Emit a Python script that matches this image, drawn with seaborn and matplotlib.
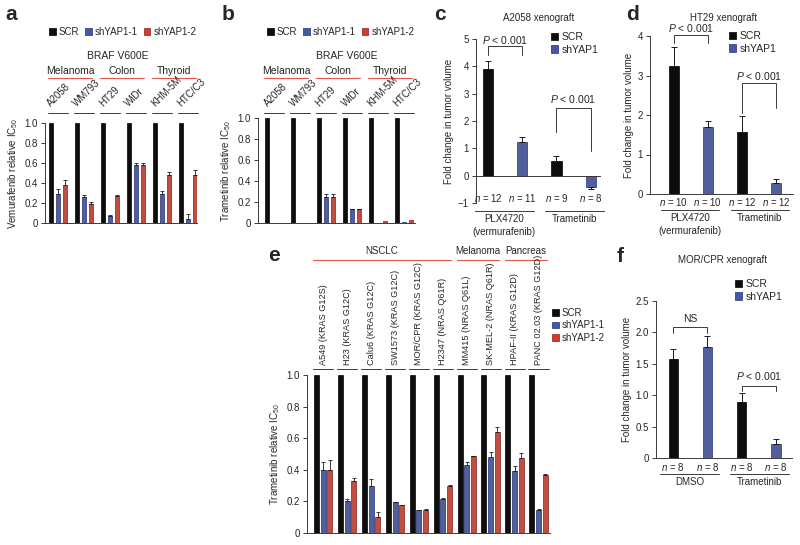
import matplotlib
matplotlib.use("Agg")
import matplotlib.pyplot as plt
import matplotlib.transforms as mtransforms
from matplotlib.patches import Patch
from matplotlib.ticker import FuncFormatter
import seaborn as sns
import pandas as pd
import numpy as np

# ---------------- data ----------------
braf_cells = ["A2058", "WM793", "HT29", "WiDr", "KHM-5M", "HTC/C3"]
braf_tissues = [("Melanoma", 0, 1), ("Colon", 2, 3), ("Thyroid", 4, 5)]

a_scr = [1.0, 1.0, 1.0, 1.0, 1.0, 1.0]
a_sh1 = [0.29, 0.26, 0.075, 0.58, 0.29, 0.04]
a_sh1_err = [0.05, 0.02, 0.01, 0.02, 0.035, 0.05]
a_sh2 = [0.385, 0.19, 0.27, 0.58, 0.48, 0.48]
a_sh2_err = [0.05, 0.02, 0.01, 0.02, 0.035, 0.055]

b_scr = [1.0, 1.0, 1.0, 1.0, 1.0, 1.0]
b_sh1 = [0.0, 0.0, 0.245, 0.133, 0.0, 0.005]
b_sh1_err = [0, 0, 0.03, 0.005, 0, 0]
b_sh2 = [0.0, 0.0, 0.245, 0.133, 0.015, 0.025]
b_sh2_err = [0, 0, 0.03, 0.005, 0, 0]

ras_cells = ["A549 (KRAS G12S)", "H23 (KRAS G12C)", "Calu6 (KRAS G12C)",
             "SW1573 (KRAS G12C)", "MOR/CPR (KRAS G12C)", "H2347 (NRAS Q61R)",
             "MM415 (NRAS Q61L)", "SK-MEL-2 (NRAS Q61R)", "HPAF-II (KRAS G12D)",
             "PANC 02.03 (KRAS G12D)"]
ras_tissues = [("NSCLC", 0, 5), ("Melanoma", 6, 7), ("Pancreas", 8, 9)]
e_scr = [1.0] * 10
e_sh1 = [0.40, 0.20, 0.30, 0.195, 0.145, 0.215, 0.43, 0.48, 0.395, 0.145]
e_sh1_err = [0.05, 0.015, 0.04, 0.004, 0.003, 0.004, 0.02, 0.03, 0.03, 0.006]
e_sh2 = [0.40, 0.33, 0.10, 0.175, 0.145, 0.30, 0.485, 0.64, 0.475, 0.37]
e_sh2_err = [0.06, 0.02, 0.035, 0.003, 0.004, 0.003, 0.003, 0.03, 0.03, 0.006]

xeno_hue = ["SCR", "shYAP1", "SCR", "shYAP1"]
c_vals = [3.9, 1.25, 0.55, -0.42]
c_err = [0.3, 0.18, 0.16, 0.07]
c_n = [12, 11, 9, 8]
c_groups = ["PLX4720\n(vermurafenib)", "Trametinib"]

d_vals = [3.23, 1.70, 1.56, 0.28]
d_err = [0.5, 0.14, 0.41, 0.11]
d_n = [10, 10, 12, 12]
d_groups = ["PLX4720\n(vermurafenib)", "Trametinib"]

f_vals = [1.57, 1.77, 0.89, 0.23]
f_err = [0.17, 0.18, 0.14, 0.08]
f_n = [8, 8, 8, 8]
f_groups = ["DMSO", "Trametinib"]

# ---------------- style ----------------
sns.set_theme(style="ticks")
plt.rcParams['font.family'] = ['Liberation Sans', 'DejaVu Sans']
plt.rcParams['mathtext.fontset'] = 'custom'
plt.rcParams['mathtext.rm'] = 'Liberation Sans'
plt.rcParams['mathtext.it'] = 'Liberation Sans:italic'
plt.rcParams['font.size'] = 7

BLACK = '#0d0d0d'
BLUE = '#4558a8'
RED = '#d63a2c'
EDGES = ['#000000', '#25306e', '#8a1f17']
LRED = '#e0584c'
GREY = '#3a3a3a'
FS = 7

W, H = 800, 545
fig = plt.figure(figsize=(8, 5.45), dpi=100)


def add_ax(x0, x1, ytop, ybot):
    return fig.add_axes([x0 / W, 1 - ybot / H, (x1 - x0) / W, (ybot - ytop) / H])


def fy(ypx):
    return 1 - ypx / H


def blend(ax):
    return mtransforms.blended_transform_factory(ax.transData, fig.transFigure)


def style(ax):
    sns.despine(ax=ax)
    for s in ['left', 'bottom']:
        ax.spines[s].set_linewidth(0.7)
        ax.spines[s].set_color(GREY)
    ax.tick_params(axis='y', length=3, width=0.7, color=GREY, labelsize=FS, pad=2)
    ax.tick_params(axis='x', length=0, labelbottom=False)
    ax.set_xlabel('')


def fmt(v, pos):
    if abs(v) < 1e-9:
        return '0'
    return f'{v:.1f}'


def panel_letter(x, y, s):
    fig.text(x / W, fy(y), s, fontsize=15, fontweight='bold', ha='left', va='center')


def square_legend(ax, labels, colors, x, y, ncol=1, fs=7.5):
    handles = [Patch(facecolor=c, edgecolor=e, linewidth=0.5) for c, e in zip(colors, EDGES)]
    ax.legend(handles, labels, loc='upper left', bbox_to_anchor=(x / W, fy(y)),
              bbox_transform=fig.transFigure, frameon=False, ncol=ncol, fontsize=fs,
              handlelength=0.7, handleheight=0.7, handletextpad=0.3, columnspacing=0.6,
              labelspacing=0.25, borderpad=0, borderaxespad=0)


def ic50_bars(ax, cells, scr, sh1, sh1_err, sh2, sh2_err, width, gap):
    groups = ['SCR', 'shYAP1-1', 'shYAP1-2']
    df = pd.DataFrame({
        'cell': list(cells) * 3,
        'group': np.repeat(groups, len(cells)),
        'value': list(scr) + list(sh1) + list(sh2),
    })
    sns.barplot(data=df, x='cell', y='value', hue='group', order=cells, hue_order=groups,
                palette=[BLACK, BLUE, RED], width=width, gap=gap, errorbar=None,
                legend=False, linewidth=0.5, ax=ax)
    for cont, ec, err in zip(ax.containers, EDGES, [np.zeros(len(cells)), sh1_err, sh2_err]):
        xs, ys = [], []
        for p in cont:
            p.set_edgecolor(ec)
            xs.append(p.get_x() + p.get_width() / 2)
            ys.append(p.get_height())
        xs, ys, err = np.array(xs), np.array(ys), np.asarray(err, dtype=float)
        m = err > 0
        if m.any():
            ax.errorbar(xs[m], ys[m], yerr=[np.zeros(m.sum()), err[m]], fmt='none',
                        ecolor='#1a1a1a', elinewidth=0.6, capsize=1.3, capthick=0.6)


def xeno_bars(ax, vals, errs, width):
    keys = ['p0', 'p1', 'p2', 'p3']
    df = pd.DataFrame({'pos': keys, 'value': vals, 'group': xeno_hue})
    sns.barplot(data=df, x='pos', y='value', hue='group', order=keys,
                hue_order=['SCR', 'shYAP1'], palette=[BLACK, BLUE], dodge=False,
                width=width, errorbar=None, legend=False, linewidth=0.5, ax=ax)
    for cont, ec in zip(ax.containers, EDGES):
        for p in cont:
            p.set_edgecolor(ec)
    vals = np.asarray(vals)
    errs = np.asarray(errs)
    lower = np.where(vals < 0, errs, 0)
    upper = np.where(vals >= 0, errs, 0)
    ax.errorbar(np.arange(4), vals, yerr=[lower, upper], fmt='none', ecolor='#1a1a1a',
                elinewidth=0.7, capsize=2, capthick=0.7)


def xeno_labels(ax, ns, groups, n_y, line_y):
    t = blend(ax)
    for i, n in enumerate(ns):
        ax.text(i, fy(n_y), f'$n$ = {n}', transform=t, ha='center', va='center', fontsize=FS)
    for (lo, hi), g in zip([(-0.38, 1.33), (1.67, 3.38)], groups):
        ax.plot([lo, hi], [fy(line_y)] * 2, transform=t, color=GREY, lw=0.7, clip_on=False)
        ax.text((lo + hi) / 2, fy(line_y + 3), g, transform=t, ha='center', va='top',
                fontsize=FS, linespacing=1.35)


def bracket(ax, x0, x1, top, leg0, leg1, label, ty):
    ax.plot([x0, x0, x1, x1], [leg0, top, top, leg1], color=GREY, lw=0.7, clip_on=False)
    ax.text((x0 + x1) / 2, ty, label, ha='center', va='center', fontsize=7.5)


def ic50_annotations(ax, cells, tissues, line_y, text_y, red_y, tissue_y, rotation, span,
                     cell_fs=FS, tissue_fs=7.5):
    t = blend(ax)
    for i, c in enumerate(cells):
        ax.plot([i - span, i + span], [fy(line_y)] * 2, transform=t, color=GREY, lw=0.7,
                clip_on=False)
        if rotation == 45:
            ax.text(i - 0.2, fy(text_y), c, transform=t, rotation=45, rotation_mode='anchor',
                    ha='left', va='bottom', fontsize=cell_fs)
        else:
            ax.text(i, fy(text_y), c, transform=t, rotation=90, ha='center', va='bottom',
                    fontsize=cell_fs)
    for name, a, b in tissues:
        lo, hi = a - span, b + span * 0.8
        ax.plot([lo, hi], [fy(red_y)] * 2, transform=t, color=LRED, lw=0.8, clip_on=False)
        ax.text((lo + hi) / 2, fy(tissue_y), name, transform=t, ha='center', va='center',
                fontsize=tissue_fs)


# ---------------- panel a ----------------
ax_a = add_ax(45, 197, 123, 223)
ic50_bars(ax_a, braf_cells, a_scr, a_sh1, a_sh1_err, a_sh2, a_sh2_err, 0.8, 0.35)
style(ax_a)
ax_a.set_ylim(0, 1.0)
ax_a.set_xlim(-0.5, 5.35)
ax_a.set_yticks([0, 0.2, 0.4, 0.6, 0.8, 1.0])
ax_a.yaxis.set_major_formatter(FuncFormatter(fmt))
ax_a.set_ylabel('Vemurafenib relative IC$_{50}$', fontsize=FS, labelpad=3)
ic50_annotations(ax_a, braf_cells, braf_tissues, 113, 108, 78, 71, 45, 0.38)
ax_a.text(2.3, fy(56), 'BRAF V600E', transform=blend(ax_a), ha='center', va='center', fontsize=7.5)
square_legend(ax_a, ['SCR', 'shYAP1-1', 'shYAP1-2'], [BLACK, BLUE, RED], 49, 27, ncol=3, fs=7)
panel_letter(5, 15, 'a')

# ---------------- panel b ----------------
ax_b = add_ax(258, 415, 118, 223)
ic50_bars(ax_b, braf_cells, b_scr, b_sh1, b_sh1_err, b_sh2, b_sh2_err, 0.8, 0.35)
style(ax_b)
ax_b.set_ylim(0, 1.0)
ax_b.set_xlim(-0.62, 5.42)
ax_b.set_yticks([0, 0.2, 0.4, 0.6, 0.8, 1.0])
ax_b.yaxis.set_major_formatter(FuncFormatter(fmt))
ax_b.set_ylabel('Trametinib relative IC$_{50}$', fontsize=FS, labelpad=3)
ic50_annotations(ax_b, braf_cells, braf_tissues, 113, 108, 78, 71, 45, 0.38)
ax_b.text(2.8, fy(56), 'BRAF V600E', transform=blend(ax_b), ha='center', va='center', fontsize=7.5)
square_legend(ax_b, ['SCR', 'shYAP1-1', 'shYAP1-2'], [BLACK, BLUE, RED], 267, 27, ncol=3, fs=7)
panel_letter(222, 15, 'b')

# ---------------- panel c ----------------
ax_c = add_ax(476, 600, 39, 203)
xeno_bars(ax_c, c_vals, c_err, 0.3)
style(ax_c)
ax_c.set_ylim(-1, 5)
ax_c.set_xlim(-0.35, 3.27)
ax_c.set_yticks([-1, 0, 1, 2, 3, 4, 5])
ax_c.spines['bottom'].set_position(('data', 0))
ax_c.set_ylabel('Fold change in tumor volume', fontsize=FS, labelpad=3)
xeno_labels(ax_c, c_n, c_groups, 198, 211)
bracket(ax_c, 0, 1, 4.75, 4.42, 4.42, '$P$ < 0.001', 4.98)
bracket(ax_c, 2, 3, 2.46, 1.6, 0.9, '$P$ < 0.001', 2.8)
fig.text(539 / W, fy(18), 'A2058 xenograft', ha='center', va='center', fontsize=FS)
square_legend(ax_c, ['SCR', 'shYAP1'], [BLACK, BLUE], 551, 32)
panel_letter(434, 15, 'c')

# ---------------- panel d ----------------
ax_d = add_ax(650, 793, 36, 194)
xeno_bars(ax_d, d_vals, d_err, 0.29)
style(ax_d)
ax_d.set_ylim(0, 4)
ax_d.set_xlim(-0.7, 3.5)
ax_d.set_yticks([0, 1, 2, 3, 4])
ax_d.set_ylabel('Fold change in tumor volume', fontsize=FS, labelpad=3)
xeno_labels(ax_d, d_n, d_groups, 202, 210)
bracket(ax_d, 0, 1, 4.03, 3.82, 3.82, '$P$ < 0.001', 4.2)
bracket(ax_d, 2, 3, 2.81, 2.05, 2.18, '$P$ < 0.001', 3.0)
fig.text(723 / W, fy(18), 'HT29 xenograft', ha='center', va='center', fontsize=FS)
square_legend(ax_d, ['SCR', 'shYAP1'], [BLACK, BLUE], 729, 31)
panel_letter(626, 15, 'd')

# ---------------- panel e ----------------
ax_e = add_ax(307, 550, 375, 533)
ic50_bars(ax_e, ras_cells, e_scr, e_sh1, e_sh1_err, e_sh2, e_sh2_err, 0.84, 0.25)
style(ax_e)
ax_e.set_ylim(0, 1.0)
ax_e.set_xlim(-0.68, 9.48)
ax_e.set_yticks([0, 0.2, 0.4, 0.6, 0.8, 1.0])
ax_e.yaxis.set_major_formatter(FuncFormatter(fmt))
ax_e.set_ylabel('Trametinib relative IC$_{50}$', fontsize=FS, labelpad=3)
ic50_annotations(ax_e, ras_cells, ras_tissues, 369, 365, 260, 251, 90, 0.42,
                 cell_fs=6.6, tissue_fs=7)
square_legend(ax_e, ['SCR', 'shYAP1-1', 'shYAP1-2'], [BLACK, BLUE, RED], 552, 308, fs=7)
panel_letter(268, 255, 'e')

# ---------------- panel f ----------------
ax_f = add_ax(656, 792, 301, 458)
xeno_bars(ax_f, f_vals, f_err, 0.27)
style(ax_f)
ax_f.set_ylim(0, 2.5)
ax_f.set_xlim(-0.5, 3.47)
ax_f.set_yticks([0, 0.5, 1.0, 1.5, 2.0, 2.5])
ax_f.yaxis.set_major_formatter(FuncFormatter(fmt))
ax_f.set_ylabel('Fold change in tumor volume', fontsize=FS, labelpad=3)
xeno_labels(ax_f, f_n, f_groups, 467, 474)
bracket(ax_f, 0, 1, 2.09, 1.99, 1.99, 'NS', 2.21)
bracket(ax_f, 2, 3, 1.15, 1.07, 1.07, '$P$ < 0.001', 1.31)
fig.text(723 / W, fy(260), 'MOR/CPR xenograft', ha='center', va='center', fontsize=FS)
square_legend(ax_f, ['SCR', 'shYAP1'], [BLACK, BLUE], 735, 279)
panel_letter(617, 257, 'f')

fig.savefig('out.png', dpi=100)
